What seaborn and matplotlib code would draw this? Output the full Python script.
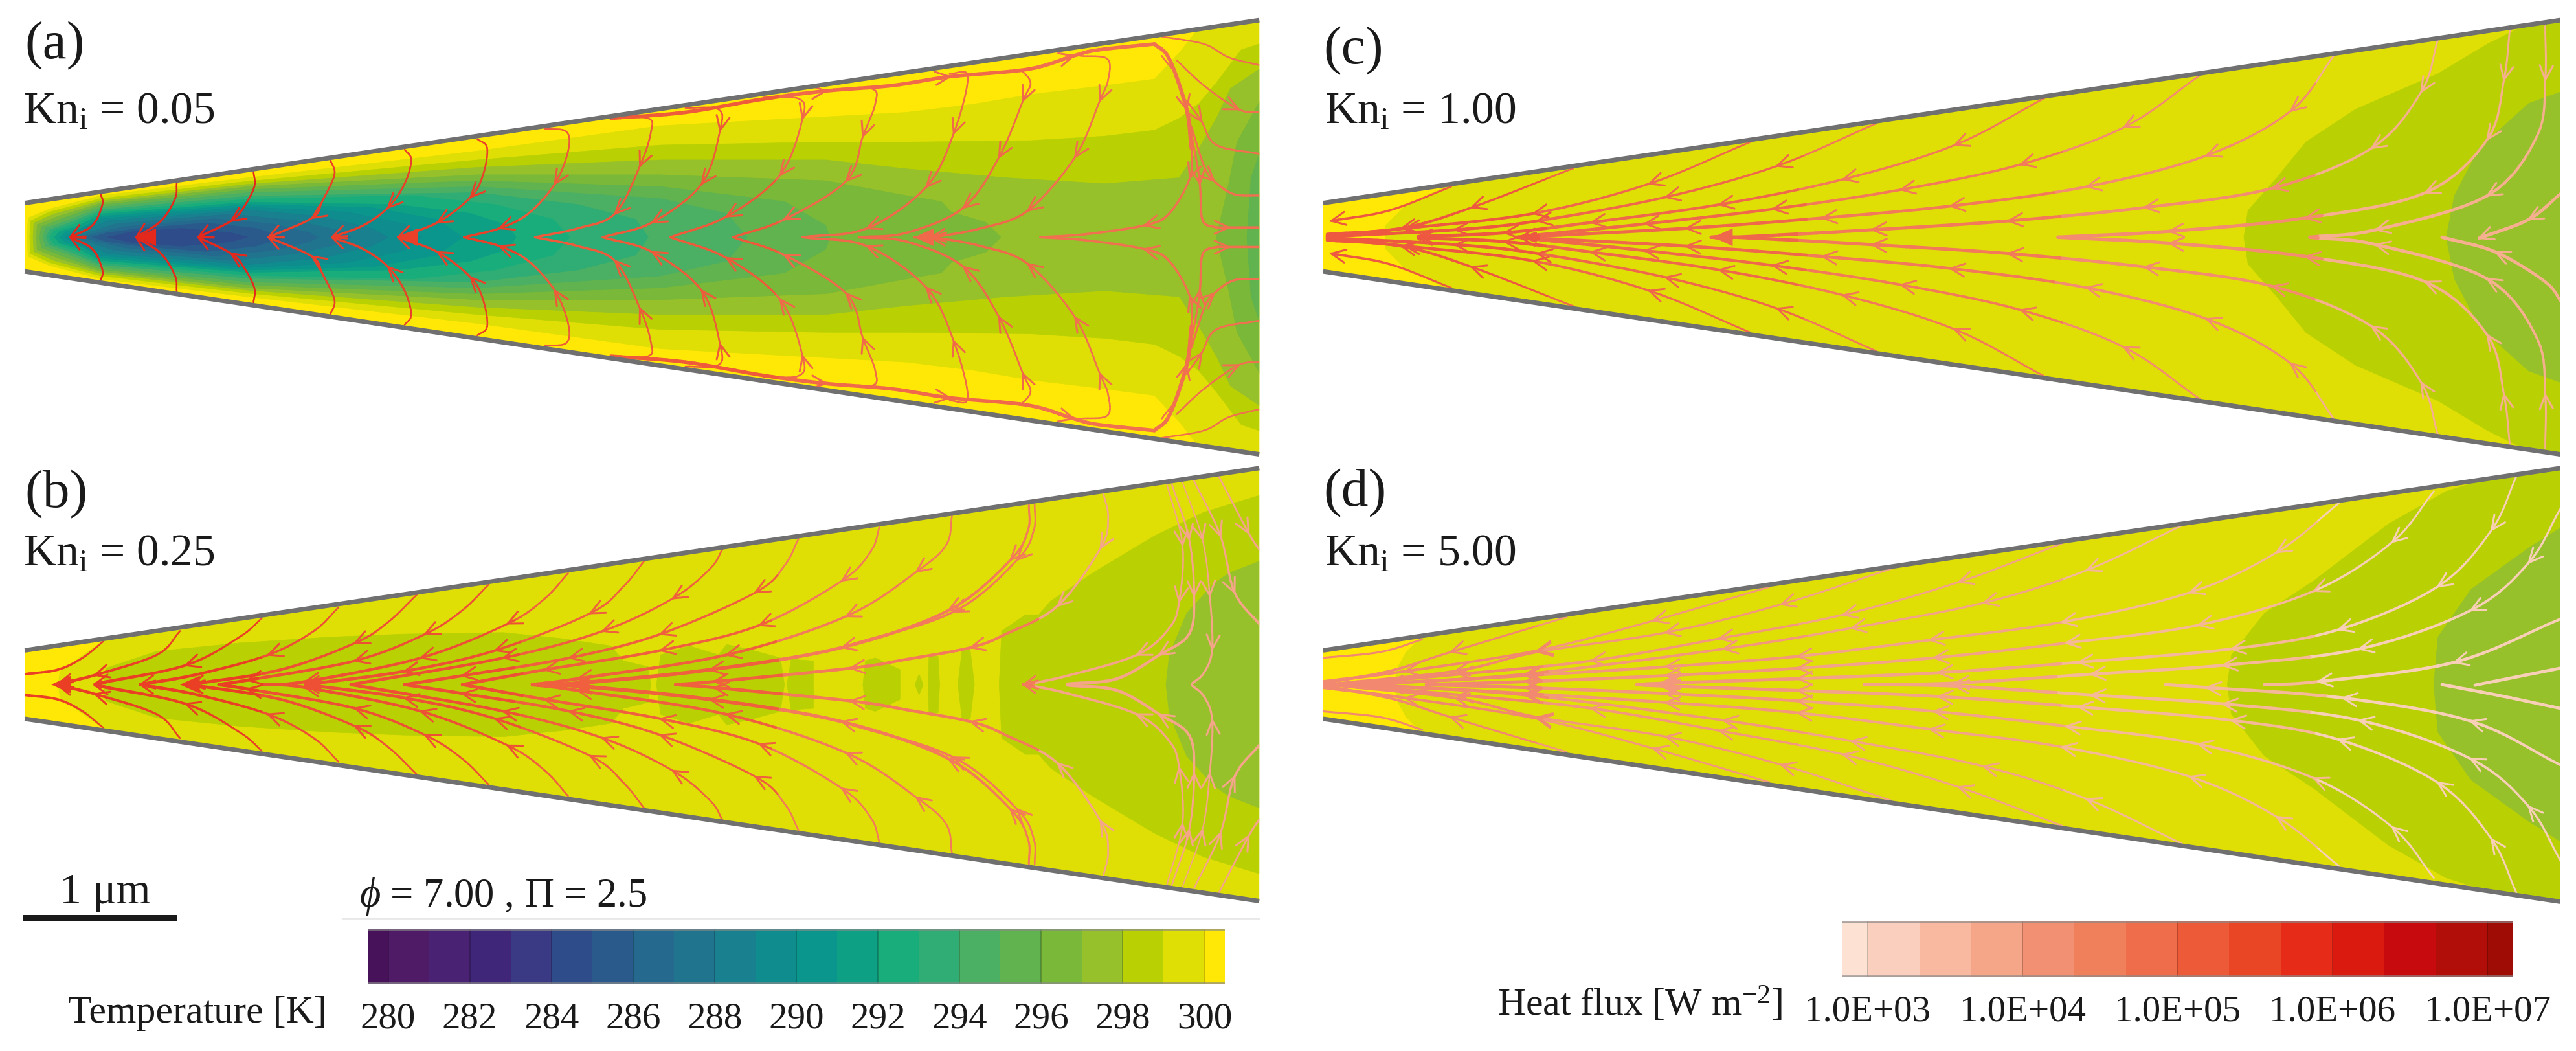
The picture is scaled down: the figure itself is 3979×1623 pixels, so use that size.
import numpy as np
import matplotlib
matplotlib.use("Agg")
import matplotlib.pyplot as plt
from matplotlib.collections import LineCollection
from matplotlib.colors import ListedColormap
from matplotlib.patches import Polygon
import seaborn as sns

W, H = 3980, 1624
DPI = 100
SERIF = "Liberation Serif"

# ---- colour scales (values read from the two legends) -------------------
T_TICKS = [280, 282, 284, 286, 288, 290, 292, 294, 296, 298, 300]
T_COLORS = ["#47125a", "#4f1a66", "#4a2273", "#3f2679", "#3a3a84", "#2e4c8a",
            "#2a5a8c", "#25698e", "#20748e", "#18808e", "#0f8c8e", "#0a968c",
            "#0da085", "#19ad7c", "#2fad74", "#4bb064", "#60b34f", "#79b838",
            "#97c12a", "#b9d103", "#dfdf06", "#ffe805"]
Q_TICKS = ["1.0E+03", "1.0E+04", "1.0E+05", "1.0E+06", "1.0E+07"]
Q_COLORS = ["#fde2d4", "#fbcfbd", "#f8b9a0", "#f5a588", "#f19073", "#f07f5c",
            "#ef6d4a", "#ec5a38", "#e94625", "#e62b19", "#da190f", "#c70a0e",
            "#b10e0a", "#9f0c05"]

# ---- panel text ----------------------------------------------------------
PANEL_TAGS = ["(a)", "(b)", "(c)", "(d)"]
PANEL_KN = ["0.05", "0.25", "1.00", "5.00"]

# ---- wedge outlines, grid units: (x0, x1, top0, top1, bottom0, bottom1) --
WEDGE_A = (30, 1525, 685, 70, 915, 1530)
WEDGE_B = (30, 1525, 665, 52, 895, 1508)
WEDGE_C = (50, 1548, 685, 70, 915, 1530)
WEDGE_D = (50, 1548, 665, 52, 895, 1510)

# ---- isotherms: (colour index in T_COLORS, upper half outline) ----------
BANDS_A = [
    (20, [(33,800),(34,735),(60,705),(122,660),(300,600),(578,510),(800,425),(1000,395),(1098,380),(1180,352),(1248,320),(1338,290),(1398,268),(1428,180),(1452,95),(1530,60),(1530,800)]),
    (19, [(36,800),(37,745),(60,715),(122,670),(300,612),(578,540),(800,490),(1000,480),(1098,480),(1248,475),(1338,460),(1398,440),(1428,400),(1452,350),(1473,280),(1503,170),(1530,145),(1530,800)]),
    (18, [(40,800),(41,752),(65,722),(122,678),(300,622),(578,565),(800,540),(1000,540),(1098,570),(1218,600),(1338,620),(1428,600),(1452,500),(1473,400),(1490,300),(1530,225),(1530,800)]),
    (17, [(44,800),(45,758),(70,730),(122,685),(300,630),(578,590),(800,590),(1000,610),(1098,660),(1140,680),(1152,715),(1194,750),(1212,800)]),
    (17, [(1473,800),(1488,620),(1498,480),(1530,320),(1530,800)]),
    (16, [(48,800),(50,765),(75,737),(122,692),(300,640),(578,610),(800,630),(950,680),(1000,760),(1005,800)]),
    (16, [(1510,800),(1515,600),(1530,480),(1530,800)]),
    (15, [(52,800),(55,770),(80,745),(122,700),(300,650),(578,630),(800,670),(880,720),(905,800)]),
    (14, [(56,800),(60,775),(85,750),(122,708),(300,662),(578,650),(700,690),(770,740),(785,800)]),
    (13, [(60,800),(65,778),(90,755),(122,715),(300,672),(500,660),(600,690),(670,740),(690,800)]),
    (12, [(66,800),(72,780),(95,762),(122,722),(300,682),(480,690),(570,720),(615,760),(625,800)]),
    (11, [(72,800),(80,782),(105,765),(122,730),(300,690),(450,700),(530,740),(560,800)]),
    (10, [(78,800),(88,784),(122,738),(300,698),(420,715),(490,755),(510,800)]),
    (9,  [(84,800),(95,786),(130,745),(300,708),(390,730),(450,770),(470,800)]),
    (8,  [(92,800),(105,786),(140,755),(280,722),(360,745),(415,780),(425,800)]),
    (7,  [(100,800),(115,788),(150,765),(260,738),(330,755),(375,785),(385,800)]),
    (6,  [(112,800),(130,785),(170,770),(250,752),(310,770),(345,800)]),
    (5,  [(130,800),(160,782),(220,770),(280,785),(300,800)]),
]
BANDS_B = [
    (21, [(30,780),(30,660),(128,625),(100,680),(72,735),(70,780)]),
    (19, [(125,780),(128,725),(190,668),(290,640),(400,620),(490,610),(610,605),(680,625),(740,650),(755,700),(785,720),(788,780)]),
    (19, [(795,780),(800,680),(835,650),(870,680),(880,645),(905,660),(945,690),(950,780)]),
    (19, [(953,780),(958,695),(985,700),(985,780)]),
    (19, [(1045,780),(1048,700),(1060,690),(1090,730),(1090,780)]),
    (19, [(1108,780),(1113,745),(1118,780)]),
    (19, [(1124,780),(1125,682),(1136,685),(1138,780)]),
    (19, [(1160,780),(1165,665),(1175,665),(1180,780)]),
    (19, [(1210,780),(1213,600),(1242,545),(1258,545),(1272,500),(1323,405),(1368,330),(1398,280),(1458,200),(1530,140),(1530,780)]),
    (18, [(1412,780),(1416,680),(1437,540),(1470,440),(1488,405),(1530,360),(1530,780)]),
]
BANDS_C = [
    (21, [(50,800),(50,680),(205,620),(150,690),(125,760),(125,800)]),
    (19, [(1165,800),(1170,710),(1205,600),(1240,480),(1300,370),(1400,250),(1460,150),(1500,95),(1550,60),(1550,800)]),
    (18, [(1410,800),(1420,660),(1450,500),(1510,350),(1550,310),(1550,800)]),
]
BANDS_D = [
    (21, [(50,780),(50,660),(170,615),(150,670),(140,720),(135,780)]),
    (19, [(1145,780),(1150,680),(1190,540),(1250,430),(1340,240),(1410,130),(1450,95),(1550,40),(1550,780)]),
    (18, [(1395,780),(1400,620),(1440,460),(1510,320),(1550,250),(1550,780)]),
]

# ---- streamlines: (upper-half points in flow order, arrow vertices, weight)
LINES_A = [
    ([(122,655),(124,690),(112,760),(85,800)], [3], 1),
    ([(214,618),(212,670),(195,745),(165,800)], [3], 1),
    ([(307,580),(308,630),(295,700),(280,745),(240,800)], [3,4], 1),
    ([(400,540),(405,590),(390,680),(378,735),(325,800)], [3,4], 1),
    ([(490,505),(498,540),(490,620),(470,700),(440,760),(402,800)], [3,5], 1),
    ([(578,470),(590,500),(585,590),(570,665),(530,750),(482,800)], [3,4,5], 1),
    ([(660,435),(686,445),(688,510),(672,620),(640,720),(605,770),(562,800)], [3,5], 1),
    ([(740,400),(785,400),(788,450),(775,560),(745,720),(700,770),(648,800)], [3,4], 1),
    ([(830,365),(870,370),(872,440),(850,620),(790,750),(730,800)], [2,3,4], 1),
    ([(925,330),(968,335),(972,400),(945,590),(880,730),(812,800)], [2,3,4], 1),
    ([(1000,305),(1055,300),(1060,350),(1045,460),(1025,610),(950,740),(888,800)], [3,4,5], 1),
    ([(1150,250),(1172,260),(1155,450),(1122,630),(1050,770),(972,800)], [2,3,4], 1),
    ([(1236,235),(1248,280),(1239,340),(1210,530),(1167,700),(1098,785),(1040,800)], [2,3,4], 1),
    ([(1308,190),(1341,200),(1342,270),(1332,340),(1302,530),(1245,710),(1188,770),(1128,800),(1107,800)], [3,4,5,7], 1),
    ([(740,400),(830,380),(925,335),(1000,308),(1080,290),(1150,260),(1245,235),(1300,190),(1330,170),(1398,150)], [3,5,7], 2.2),
    ([(1398,150),(1416,200),(1437,370),(1443,500)], [2], 2.2),
    ([(1443,500),(1441,600),(1416,720),(1386,760),(1314,790),(1260,800)], [1,3], 1),
    ([(1407,190),(1428,280),(1446,500),(1453,620),(1456,740),(1470,765),(1488,767),(1526,767)], [3,6], 1),
    ([(1407,125),(1458,150),(1488,195),(1526,222)], [], 1),
    ([(1425,205),(1458,290),(1500,370),(1526,380)], [2], 1),
    ([(1437,340),(1455,410),(1473,490),(1526,520)], [1], 1),
    ([(1443,430),(1458,560),(1470,610),(1494,655),(1526,660)], [2], 1),
]
LINES_B = [
    ([(125,635),(100,690),(70,730),(30,745)], [], 1),
    ([(218,600),(190,680),(115,748),(70,778)], [2,3], 1),
    ([(317,557),(290,620),(225,715),(115,778)], [2,3], 1),
    ([(410,520),(380,600),(325,680),(240,745),(170,780)], [2,4], 1),
    ([(505,477),(470,570),(430,640),(340,730),(230,780)], [2,4], 1),
    ([(592,443),(560,530),(515,610),(430,700),(300,765),(265,780)], [2,3,4], 1),
    ([(688,405),(660,490),(615,575),(510,690),(370,770),(320,780)], [2,3,4], 1),
    ([(780,365),(755,450),(715,540),(600,665),(490,735),(370,780)], [2,3,4,5], 1),
    ([(875,325),(860,390),(815,490),(730,600),(610,690),(425,780)], [2,3,4], 1),
    ([(967,290),(950,380),(915,470),(800,610),(690,690),(560,750),(490,780)], [2,3,4,5], 1),
    ([(1065,250),(1055,330),(1020,430),(920,580),(800,665),(660,730),(560,780)], [2,3,4,5], 1),
    ([(1153,210),(1146,310),(1110,400),(1025,550),(880,680),(700,760),(645,780)], [2,3,4,5], 1),
    ([(1246,175),(1245,260),(1224,360),(1149,530),(1020,655),(860,730),(700,775),(645,780)], [2,3,4,5,6], 1.2),
    ([(1253,175),(1252,260),(1232,360),(1155,535),(1020,655)], [2,3], 1),
    ([(1336,135),(1342,220),(1333,320),(1281,515),(1218,610),(1176,655),(1098,695),(1030,725),(865,770),(818,780)], [2,3,5,7,8], 1),
    ([(1413,105),(1432,310),(1428,500),(1416,590),(1377,680),(1293,750),(1239,782)], [1,2,4,6], 0.8),
    ([(1419,105),(1440,290),(1446,480),(1440,610),(1404,680),(1353,760),(1293,778)], [1,2,4], 0.95),
    ([(1432,100),(1456,290),(1465,480),(1468,660),(1458,740),(1443,778)], [1,2,3], 0.7),
    ([(1446,95),(1478,280),(1495,470),(1526,580)], [1,2], 1),
    ([(1476,80),(1512,270),(1526,330)], [1], 1),
]
LINES_C = [
    ([(205,630),(130,710),(60,745)], [2], 1),
    ([(353,568),(230,700),(145,770),(55,790)], [1,2], 1),
    ([(567,480),(445,620),(305,720),(150,770),(55,795)], [1,2,3], 1),
    ([(720,417),(600,560),(465,665),(310,745),(210,775),(55,798)], [1,2,3,4], 1),
    ([(925,330),(815,490),(680,605),(530,690),(375,750),(270,785),(165,798)], [1,2,3,4,5,6], 1),
    ([(1112,255),(1020,430),(895,555),(750,640),(595,705),(440,755),(290,798)], [1,2,3,4,5,6], 1),
    ([(1275,185),(1222,375),(1120,525),(975,630),(810,695),(655,735),(490,770),(285,800)], [1,2,3,4,5,6], 1),
    ([(1400,135),(1380,310),(1320,500),(1200,635),(1045,700),(880,745),(715,775),(550,800),(520,800)], [1,2,3,4,5,6], 1),
    ([(1487,105),(1480,270),(1460,470),(1385,650),(1240,735),(1075,780),(940,800)], [1,2,3,4,5], 1),
    ([(1530,90),(1530,270),(1520,460),(1460,660),(1325,775),(1245,800)], [1,3,4], 1),
]
EXTRA_C = [
    ([(1550,650),(1510,740),(1450,803)], [1,2], 1),
    ([(1550,1020),(1530,950),(1470,850),(1405,800)], [2], 1),
]
LINES_D = [
    ([(170,628),(120,670),(50,690)], [], 1),
    ([(345,553),(205,670),(130,735),(50,775)], [1], 1),
    ([(590,452),(450,565),(310,665),(150,735),(50,770)], [1,2,3], 1),
    ([(738,390),(605,510),(465,605),(310,670),(210,735),(50,782)], [1,2,3,4], 1),
    ([(945,305),(820,435),(680,545),(530,625),(375,700),(215,745),(50,785)], [1,2,3,4,5], 1),
    ([(1090,245),(975,395),(850,505),(690,590),(535,660),(295,745),(130,775)], [1,2,3,4,5,6], 1),
    ([(1280,170),(1205,335),(1100,470),(945,570),(785,630),(625,685),(465,720),(295,750),(130,775),(50,780)], [1,2,3,4,5,6,7,8], 1),
    ([(1395,130),(1345,300),(1250,465),(1110,580),(950,640),(790,690),(625,725),(465,750),(295,770),(175,780)], [1,2,3,4,5,6,7,8], 1),
    ([(1495,80),(1465,260),(1400,450),(1280,595),(1150,660),(965,705),(795,740),(625,760),(465,775),(430,780)], [1,2,3,4,5,6,7,8], 1),
    ([(1548,190),(1510,370),(1440,530),(1305,660),(1140,715),(980,745),(815,775),(705,780)], [1,2,3,4,5,6], 1),
]
EXTRA_D = [
    ([(1548,560),(1420,705),(1255,770),(1190,780)], [1,2], 1),
    ([(1548,725),(1445,782)], [], 1),
    ([(1548,1050),(1440,903),(1285,825),(1120,790),(1070,780)], [1,2,3], 1),
    ([(1548,860),(1480,820),(1405,780)], [], 1),
]

# ---- solid arrow heads on the centre line, grid units --------------------
HEADS_A = [(1107,800), (165,800), (482,800)]
HEADS_B = [(62,780), (218,780), (690,780)]
HEADS_C = [(522,800)]
HEADS_D = [(452,780)]

# ---- line colours along x, for each panel --------------------------------
RAMP_A = ["#e5281c", "#ea3f28", "#ee5a3a", "#f0694a", "#f17050"]
RAMP_B = ["#ea3f25", "#ee5035", "#f0603e", "#f37a5a", "#f5a58a"]
RAMP_C = ["#ee5840", "#f0684c", "#f2795a", "#f38c70", "#f6b090"]
RAMP_D = ["#f28870", "#f3987c", "#f3a488", "#f5b898", "#f8d0b8"]

# ---- set-up --------------------------------------------------------------
sns.set_theme(style="white")
plt.rcParams["font.family"] = [SERIF, "DejaVu Serif"]
plt.rcParams["mathtext.fontset"] = "custom"
plt.rcParams["mathtext.rm"] = SERIF
plt.rcParams["mathtext.it"] = SERIF + ":italic"
plt.rcParams["mathtext.bf"] = SERIF + ":bold"

t_pal = sns.color_palette(T_COLORS)
q_pal = sns.color_palette(Q_COLORS)
fig = plt.figure(figsize=(W / DPI, H / DPI), dpi=DPI, facecolor="white")


def box(x0, y0, x1, y1):
    return [x0 / W, 1 - y1 / H, (x1 - x0) / W, (y1 - y0) / H]


SX, SY = 2000 / 1568, 720 / 1568   # reference pixels per grid unit


def through(pts, n=8):
    """Draw a rounded stroke through the read points."""
    p = np.asarray(pts, float)
    if len(p) < 3:
        return p
    q = np.vstack([2 * p[0] - p[1], p, 2 * p[-1] - p[-2]])
    out = []
    for i in range(1, len(q) - 2):
        for t in np.arange(n) / n:
            out.append(0.5 * (2 * q[i] + (q[i + 1] - q[i - 1]) * t
                              + (2 * q[i - 1] - 5 * q[i] + 4 * q[i + 1] - q[i + 2]) * t ** 2
                              + (3 * q[i] - q[i - 1] - 3 * q[i + 1] + q[i + 2]) * t ** 3))
    out.append(p[-1])
    return np.array(out)


def draw_stream(ax, pts, arrows, weight, ramp, clip, half, centre, wmin, wmax, mirror):
    pts = [(x, 2 * centre - y) for x, y in pts] if mirror else list(pts)
    c = through(pts)
    seg = np.stack([c[:-1], c[1:]], axis=1)
    mid = seg.mean(axis=1)
    idx = np.clip((mid[:, 0] / 1568 * len(ramp)).astype(int), 0, len(ramp) - 1)
    rel = np.clip(np.abs(mid[:, 1] - centre) / half(mid[:, 0]), 0, 1)
    width_px = (wmin + (wmax - wmin) * (1 - rel) ** 1.5) * weight
    lc = LineCollection(seg, colors=[ramp[i] for i in idx], linewidths=width_px * 0.72,
                        capstyle="round", zorder=4)
    ax.add_collection(lc)
    lc.set_clip_path(clip)
    p = np.asarray(pts, float)
    for k in arrows:
        a, b = p[max(k - 1, 0)], p[min(k + 1, len(p) - 1)]
        d = (b - a) * (SX, SY)
        d = d / np.hypot(*d)
        col = ramp[min(int(p[k, 0] / 1568 * len(ramp)), len(ramp) - 1)]
        for ang in (np.radians(155), np.radians(-155)):
            r = np.array([d[0] * np.cos(ang) - d[1] * np.sin(ang),
                          d[0] * np.sin(ang) + d[1] * np.cos(ang)])
            e = p[k] + 24 * r / (SX, SY)
            ax.plot([p[k, 0], e[0]], [p[k, 1], e[1]], color=col,
                    lw=3.0 * 0.72, solid_capstyle="round", zorder=5)


def draw_panel(crop, wedge, bands, lines, ramp, wmin, wmax, extra=(), heads=()):
    ax = fig.add_axes(box(*crop))
    ax.set_xlim(0, 1568)
    ax.set_ylim(1568, 0)
    ax.axis("off")
    ax.patch.set_alpha(0)
    x0, x1, t0, t1, b0, b1 = wedge
    centre = (t0 + b0) / 2
    slope = (t0 - t1) / (x1 - x0)
    half = lambda x: (b0 - t0) / 2 + slope * (x - x0)
    outline = Polygon([(x0, t0), (x1, t1), (x1, b1), (x0, b0)], closed=True,
                      facecolor=t_pal[20 if bands is not BANDS_A else 21],
                      edgecolor="none", zorder=1)
    ax.add_patch(outline)
    for colour, up in bands:
        up = np.asarray(up, float)
        low = np.column_stack([up[:, 0], 2 * centre - up[:, 1]])[::-1]
        pg = Polygon(np.vstack([up, low]), closed=True, facecolor=t_pal[colour],
                     edgecolor=t_pal[colour], lw=0.5, zorder=2)
        ax.add_patch(pg)
        pg.set_clip_path(outline)
    for pts, arrows, weight in lines:
        for mirror in (False, True):
            draw_stream(ax, pts, arrows, weight, ramp, outline, half, centre, wmin, wmax, mirror)
    for pts, arrows, weight in extra:
        draw_stream(ax, pts, arrows, weight, ramp, outline, half, centre, wmin, wmax, False)
    for hx, hy in heads:
        col = ramp[min(int(hx / 1568 * len(ramp)), len(ramp) - 1)]
        ax.add_patch(Polygon([(hx, hy), (hx + 24, hy - 30), (hx + 24, hy + 30)], closed=True,
                             facecolor=col, edgecolor="none", zorder=5))
    for ys in ((t0, t1), (b0, b1)):
        sns.lineplot(x=[x0, x1], y=list(ys), color="#707070", lw=7 * 0.72, ax=ax,
                     sort=False, estimator=None, legend=False, zorder=6,
                     solid_capstyle="butt")
    ax.axis("off")
    ax.set_xlim(0, 1568)
    ax.set_ylim(1568, 0)
    return ax


draw_panel((0, 0, 2000, 720), WEDGE_A, BANDS_A, LINES_A, RAMP_A, 2.5, 3.6, heads=HEADS_A)
draw_panel((0, 700, 2000, 1420), WEDGE_B, BANDS_B, LINES_B, RAMP_B, 2.5, 5.0, heads=HEADS_B)
draw_panel((1980, 0, 3980, 720), WEDGE_C, BANDS_C, LINES_C, RAMP_C, 2.8, 5.2, EXTRA_C, HEADS_C)
draw_panel((1980, 700, 3980, 1420), WEDGE_D, BANDS_D, LINES_D, RAMP_D, 2.8, 5.0, EXTRA_D, HEADS_D)


# ---- legends -------------------------------------------------------------
def legend(rect, pal, tick_cols, tick_labels, size, pad):
    n = len(pal)
    widths = [1] + [2] * (n - 2) + [1]
    cells = np.repeat(np.arange(n), widths)[None, :]
    ax = fig.add_axes(box(*rect))
    sns.heatmap(cells, ax=ax, cmap=ListedColormap(pal), vmin=-0.5, vmax=n - 0.5,
                cbar=False, xticklabels=False, yticklabels=False, linewidths=0)
    ax.set_xticks(tick_cols)
    ax.set_xticklabels(tick_labels, fontsize=size, rotation=0, color="#1a1a1a")
    ax.tick_params(axis="x", length=0, pad=pad)
    ax.vlines(tick_cols, 0, 1, color="black", alpha=0.25, lw=1.2)
    ax.hlines([0.01, 0.99], 0, cells.shape[1], color="#8a8a8a", alpha=0.7, lw=2)


legend((568, 1435, 1892, 1520), t_pal, np.arange(1, 42, 4), [str(t) for t in T_TICKS], 41, 20)
legend((2845, 1424, 3882, 1509), q_pal, np.arange(1, 26, 6), Q_TICKS, 41, 20)

# ---- overlay: annotations in reference pixels ----------------------------
ov = fig.add_axes([0, 0, 1, 1], zorder=20)
ov.set_xlim(0, W)
ov.set_ylim(H, 0)
ov.axis("off")
ov.patch.set_alpha(0)
TEXT = "#1a1a1a"
for tag, x, y in zip(PANEL_TAGS, (38, 38, 2044, 2044), (71, 764, 79, 762)):
    ov.text(x, y, tag, fontsize=60, color=TEXT, va="center", ha="left")
for kn, x, y in zip(PANEL_KN, (36, 36, 2046, 2046), (190, 873, 190, 873)):
    ov.text(x, y, "Kn$_{\\mathrm{i}}$ = " + kn, fontsize=50, color=TEXT, va="baseline", ha="left")

ov.add_patch(plt.Rectangle((36, 1414), 238, 10, facecolor=TEXT, edgecolor="none"))
ov.text(92, 1395, "1 μm", fontsize=49, color=TEXT, va="baseline", ha="left")
ov.text(555, 1400, "$\\phi$ = 7.00 , Π = 2.5", fontsize=45, color=TEXT, va="baseline", ha="left")
ov.plot([529, 1945], [1419, 1419], color="#e8e8e8", lw=2)
ov.text(105, 1579, "Temperature [K]", fontsize=43, color=TEXT, va="baseline", ha="left")
ov.text(2313, 1568, "Heat flux [W m$^{-2}$]", fontsize=43, color=TEXT, va="baseline", ha="left")

fig.savefig("out.png", dpi=DPI, facecolor="white")
